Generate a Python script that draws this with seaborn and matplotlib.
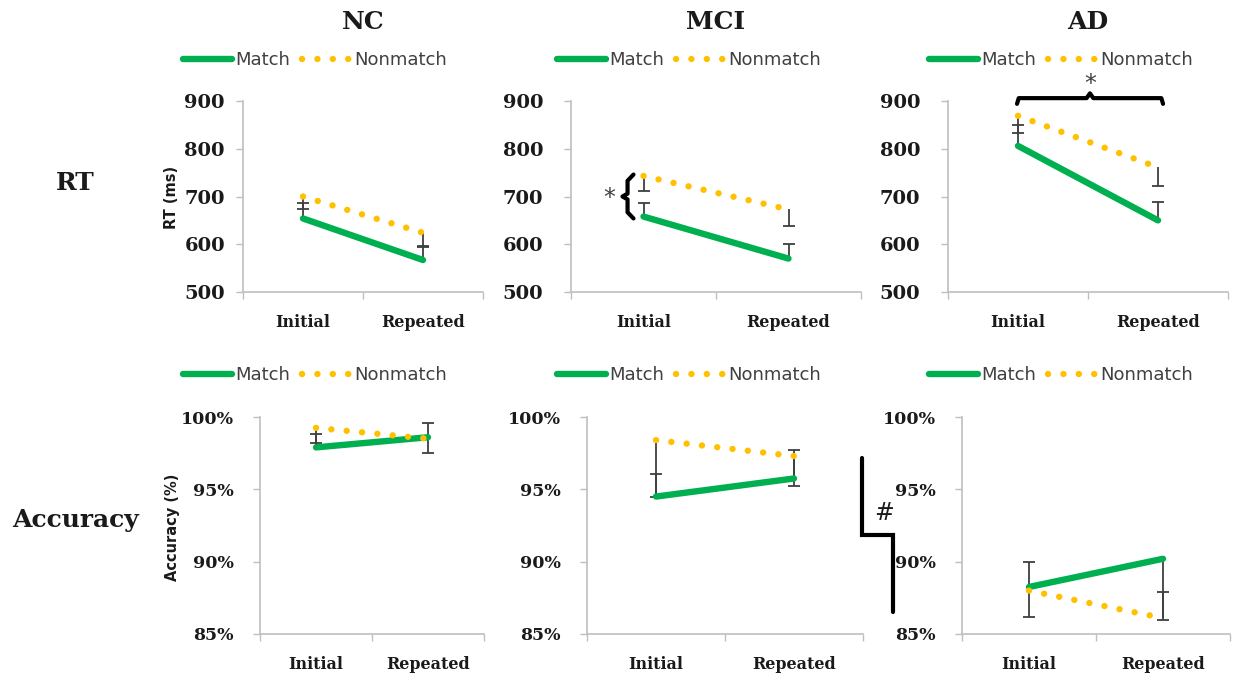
import numpy as np
import pandas as pd
import matplotlib
matplotlib.use("Agg")
import matplotlib.pyplot as plt
import seaborn as sns
from matplotlib.lines import Line2D

# ---- data -------------------------------------------------------------
groups = ["NC", "MCI", "AD"]
phases = ["Initial", "Repeated"]

# reaction time (ms), one [Initial, Repeated] pair per group
rt_match = [[654, 567], [658, 570], [806, 650]]
rt_nonmatch = [[700, 624], [743, 673], [869, 761]]
# one-sided error bars: positive = drawn upward, negative = drawn downward
rt_match_err = [[33, 27], [28, 31], [43, 39]]
rt_nonmatch_err = [[-26, -28], [-32, -34], [-37, -40]]

# accuracy (%)
acc_match = [[97.9, 98.6], [94.5, 95.75], [88.25, 90.2]]
acc_nonmatch = [[99.25, 98.5], [98.4, 97.3], [88.0, 86.1]]
acc_match_err = [[0.95, 1.0], [1.55, 1.95], [1.75, -4.2]]
acc_nonmatch_err = [[-1.05, -1.0], [-3.9, -2.1], [-1.8, 1.8]]

rt_ticks = [500, 600, 700, 800, 900]
acc_ticks = [85, 90, 95, 100]

# ---- style ------------------------------------------------------------
W, H = 1235, 677
GREEN = "#00B050"
GOLD = "#FFC000"
AXIS_GREY = "#BFBFBF"
ERR_GREY = "#3F3F3F"
TEXT = "#1A1A1A"
DOTS = (0.01, 2.4)

sns.set_theme(style="white")
plt.rcParams["font.family"] = ["DejaVu Sans"]

fig = plt.figure(figsize=(W / 100, H / 100), dpi=100)


def px_rect(x0, x1, ytop, ybot):
    return [x0 / W, 1 - ybot / H, (x1 - x0) / W, (ybot - ytop) / H]


def one_sided_errors(ax, pos, vals, errs):
    """Stem from the mean to mean+err with a cap only at the far end."""
    vals = np.asarray(vals, dtype=float)
    ends = vals + np.asarray(errs, dtype=float)
    ax.vlines(pos, vals, ends, color=ERR_GREY, lw=1.3, zorder=2)
    ax.plot(pos, ends, ls="none", marker="_", markersize=9,
            markeredgewidth=1.3, color=ERR_GREY, zorder=2)


def draw_panel(ax, match, nonmatch, merr, nerr, ylim, yticks, fmt, ysize, ypad):
    pos = np.arange(len(phases))
    df = pd.DataFrame({
        "pos": np.concatenate([pos, pos]),
        "value": list(match) + list(nonmatch),
        "cond": ["Match"] * len(pos) + ["Nonmatch"] * len(pos),
    })
    one_sided_errors(ax, pos, match, merr)
    one_sided_errors(ax, pos, nonmatch, nerr)
    sns.lineplot(data=df, x="pos", y="value", hue="cond", style="cond",
                 palette={"Match": GREEN, "Nonmatch": GOLD},
                 dashes={"Match": "", "Nonmatch": DOTS},
                 linewidth=4.6, legend=False, sort=False, ax=ax, zorder=3)
    for ln in ax.lines:
        ln.set_dash_capstyle("round")
        ln.set_solid_capstyle("round")

    ax.set_xlim(-0.5, len(phases) - 0.5)
    ax.set_ylim(*ylim)
    ax.set_yticks(yticks)
    ax.set_yticklabels([fmt(v) for v in yticks], fontsize=ysize,
                       fontweight="bold", family="DejaVu Serif", color=TEXT)
    ax.set_xticks(pos)
    ax.set_xticklabels(phases, fontsize=11.5, fontweight="bold",
                       family="DejaVu Serif", color=TEXT)
    ax.set_xticks(np.arange(-0.5, len(phases)), minor=True)
    ax.tick_params(axis="x", which="major", length=0, pad=16)
    ax.tick_params(axis="x", which="minor", length=5, width=1,
                   color=AXIS_GREY, direction="out", bottom=True)
    ax.tick_params(axis="y", which="major", length=5, width=1,
                   color=AXIS_GREY, direction="out", left=True, pad=ypad)
    ax.set_xlabel("")
    ax.set_ylabel("")
    for side in ("top", "right"):
        ax.spines[side].set_visible(False)
    for side in ("left", "bottom"):
        ax.spines[side].set_color(AXIS_GREY)
        ax.spines[side].set_linewidth(1.2)
    ax.grid(False)
    ax.set_facecolor("none")


row1_x = [(243, 483), (571, 861), (948, 1228)]
row2_x = [(260, 484), (587, 863), (962, 1230)]
title_x = [363, 716, 1088]
legend_x = [315, 689, 1061]

legend_handles = [
    Line2D([], [], color=GREEN, lw=4.6, solid_capstyle="round"),
    Line2D([], [], color=GOLD, lw=4.6, dashes=DOTS, dash_capstyle="round"),
]

rt_axes, acc_axes = [], []
for i, g in enumerate(groups):
    ax = fig.add_axes(px_rect(*row1_x[i], 101, 292))
    draw_panel(ax, rt_match[i], rt_nonmatch[i], rt_match_err[i],
               rt_nonmatch_err[i], (500, 900), rt_ticks,
               lambda v: f"{v:d}", 14, 8 if i == 0 else 15)
    rt_axes.append(ax)

    ax2 = fig.add_axes(px_rect(*row2_x[i], 417, 634))
    draw_panel(ax2, acc_match[i], acc_nonmatch[i], acc_match_err[i],
               acc_nonmatch_err[i], (85, 100), acc_ticks,
               lambda v: f"{v:d}%", 12.5, 14)
    acc_axes.append(ax2)

    fig.text(title_x[i] / W, 1 - 22 / H, g, ha="center", va="center",
             fontsize=18, fontweight="bold", family="DejaVu Serif", color=TEXT)
    for ly in (60, 375):
        fig.legend(legend_handles, ["Match", "Nonmatch"], loc="center",
                   bbox_to_anchor=(legend_x[i] / W, 1 - ly / H), ncol=2,
                   frameon=False, handlelength=2.7, handletextpad=0.15,
                   columnspacing=0.7, fontsize=13,
                   labelcolor="#404040")

# row and axis labels
fig.text(75 / W, 1 - 183 / H, "RT", ha="center", va="center", fontsize=18,
         fontweight="bold", family="DejaVu Serif", color=TEXT)
fig.text(75 / W, 1 - 520 / H, "Accuracy", ha="center", va="center",
         fontsize=18, fontweight="bold", family="DejaVu Serif", color=TEXT)
fig.text(172 / W, 1 - 197 / H, "RT (ms)", ha="center", va="center",
         rotation=90, fontsize=10.5, fontweight="bold", color=TEXT)
fig.text(172 / W, 1 - 527 / H, "Accuracy (%)", ha="center", va="center",
         rotation=90, fontsize=10.5, fontweight="bold", color=TEXT)

# significance marks: brace between the MCI Initial means
ax = rt_axes[1]
brace_x = [-0.069, -0.11, -0.11, -0.145, -0.11, -0.11, -0.069]
brace_y = [746, 733, 706, 700, 694, 667, 654]
ax.plot(brace_x, brace_y, color="black", lw=3, solid_joinstyle="round",
        solid_capstyle="round", clip_on=False, zorder=5)
ax.text(-0.235, 697, "*", ha="center", va="center", fontsize=17,
        color="#404040", clip_on=False)

# bracket over the AD Initial/Repeated pair
ax = rt_axes[2]
bx = [-0.007, 0.005, 0.49, 0.514, 0.538, 1.024, 1.036]
by = [894, 906, 906, 916, 906, 906, 894]
ax.plot(bx, by, color="black", lw=3, solid_joinstyle="round",
        clip_on=False, zorder=5)
ax.text(0.514, 936, "*", ha="center", va="center", fontsize=17,
        color="#404040", clip_on=False)

# step bracket between the MCI and AD accuracy panels
hx = np.array([862, 862, 893, 893]) / W
hy = 1 - np.array([458, 535, 535, 612]) / H
fig.add_artist(Line2D(hx, hy, color="black", lw=3,
                      solid_joinstyle="miter", transform=fig.transFigure))
fig.text(884 / W, 1 - 513 / H, "#", ha="center", va="center", fontsize=17,
         color=TEXT)

fig.savefig("out.png", dpi=100)
